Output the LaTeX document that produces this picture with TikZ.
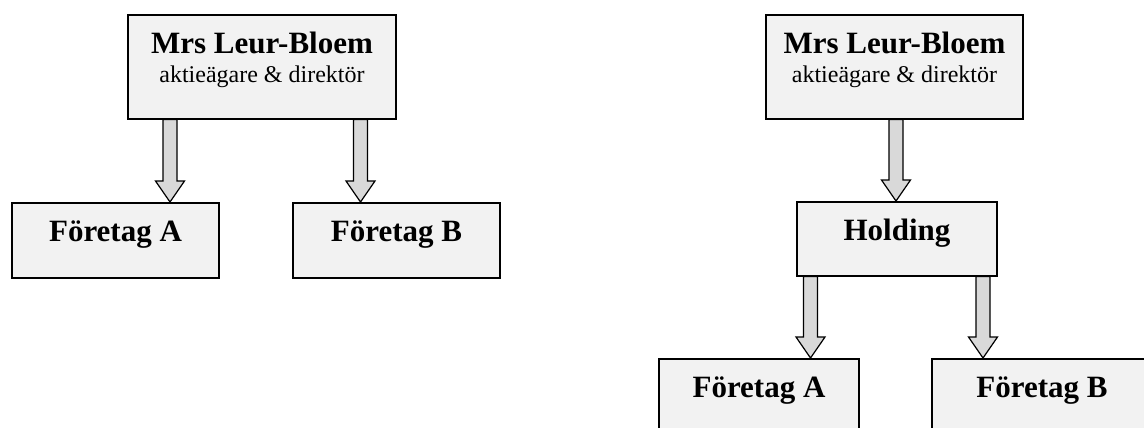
\documentclass[tikz,border=0pt]{standalone}
\usepackage{fontspec}
\setmainfont{Liberation Serif}
\usetikzlibrary{calc}

\begin{document}
\begin{tikzpicture}[
  x=1pt,
  y=-1pt,
  box/.style={
    rectangle,
    draw=black,
    fill=black!5,
    line width=1.6pt,
    anchor=north,
    inner xsep=0pt,
    inner ysep=0pt,
    align=center,
    font=\bfseries\fontsize{31}{29}\selectfont
  },
  unitbox/.style={box,text height=39pt,text depth=36pt},
  ownerbox/.style={box,text height=68pt,text depth=36pt},
  blockarrow/.style={
    draw=black,
    fill=black!15,
    line width=1.2pt,
    line join=miter,
    to path={
      let \p1=(\tikztostart), \p2=(\tikztotarget) in
      (\x1-7pt,\y1) -- (\x1-7pt,\y2+21pt) -- (\x1-14.5pt,\y2+21pt) -- (\x2,\y2)
      -- (\x1+14.5pt,\y2+21pt) -- (\x1+7pt,\y2+21pt) -- (\x1+7pt,\y1) -- cycle
    }
  }
]
\useasboundingbox (0,0) rectangle (1144,428);
\newcommand{\subline}{\normalfont\fontsize{24}{29}\selectfont}

% Direct ownership.
\node[ownerbox,minimum width=268pt] (owner1) at (262,14) {Mrs Leur-Bloem\\{\subline aktieägare \& direktör}};
\node[unitbox,minimum width=207pt] (compA1) at (115.5,202) {Företag A};
\node[unitbox,minimum width=207pt] (compB1) at (396.5,202) {Företag B};
\draw[blockarrow] (owner1.south -| 170,0) to (compA1.north -| 170,0);
\draw[blockarrow] (owner1.south -| 360.5,0) to (compB1.north -| 360.5,0);

% Ownership through a holding.
\node[ownerbox,minimum width=257pt] (owner2) at (894.5,14) {Mrs Leur-Bloem\\{\subline aktieägare \& direktör}};
\node[unitbox,minimum width=200pt,text depth=35pt] (hold) at (897,201) {Holding};
\node[unitbox,minimum width=200pt] (compA2) at (759,358) {Företag A};
\node[unitbox,minimum width=220pt] (compB2) at (1042,358) {Företag B};
\draw[blockarrow] (owner2.south -| 896,0) to (hold.north -| 896,0);
\draw[blockarrow] (hold.south -| 810.5,0) to (compA2.north -| 810.5,0);
\draw[blockarrow] (hold.south -| 983,0) to (compB2.north -| 983,0);

\end{tikzpicture}
\end{document}
